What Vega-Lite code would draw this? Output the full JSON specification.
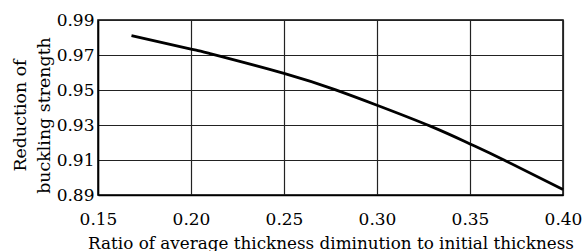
{
  "$schema": "https://vega.github.io/schema/vega-lite/v6.json",
  "width": 465,
  "height": 175,
  "autosize": {"type": "none"},
  "padding": {"left": 98, "top": 20, "right": 21, "bottom": 56},
  "background": "white",
  "config": {
    "font": "DejaVu Serif",
    "view": {"stroke": "black", "strokeWidth": 1.5},
    "axis": {
      "grid": true,
      "gridColor": "#222222",
      "gridWidth": 1.2,
      "gridOpacity": 1,
      "domain": true,
      "domainColor": "black",
      "domainWidth": 1.5,
      "ticks": false,
      "tickSize": 0,
      "labelFont": "DejaVu Serif",
      "labelFontSize": 17,
      "labelColor": "black",
      "titleFont": "DejaVu Serif",
      "titleFontSize": 16.8,
      "titleFontWeight": "normal",
      "titleColor": "black"
    }
  },
  "data": {
    "values": [
      {"ratio": 0.168, "reduction": 0.9811},
      {"ratio": 0.2, "reduction": 0.9734},
      {"ratio": 0.2102, "reduction": 0.9708},
      {"ratio": 0.25, "reduction": 0.9595},
      {"ratio": 0.2774, "reduction": 0.9502},
      {"ratio": 0.3, "reduction": 0.9413},
      {"ratio": 0.329, "reduction": 0.9292},
      {"ratio": 0.35, "reduction": 0.9192},
      {"ratio": 0.3677, "reduction": 0.9103},
      {"ratio": 0.4, "reduction": 0.8931}
    ]
  },
  "mark": {"type": "line", "color": "black", "strokeWidth": 2.8, "interpolate": "natural"},
  "encoding": {
    "x": {
      "field": "ratio",
      "type": "quantitative",
      "scale": {"domain": [0.15, 0.4], "nice": false, "zero": false},
      "axis": {
        "values": [0.15, 0.2, 0.25, 0.3, 0.35, 0.4],
        "format": ".2f",
        "labelPadding": 29,
        "labelBaseline": "alphabetic",
        "labelFlush": false,
        "title": "Ratio of average thickness diminution to initial thickness",
        "titleBaseline": "alphabetic",
        "titleY": 53
      }
    },
    "y": {
      "field": "reduction",
      "type": "quantitative",
      "scale": {"domain": [0.89, 0.99], "nice": false, "zero": false},
      "axis": {
        "values": [0.89, 0.91, 0.93, 0.95, 0.97, 0.99],
        "format": ".2f",
        "labelPadding": 4,
        "labelBaseline": "middle",
        "labelFlush": false,
        "title": ["Reduction of", "buckling strength"],
        "titleFontSize": 17.4,
        "titleAngle": -90,
        "titleAlign": "center",
        "titleBaseline": "alphabetic",
        "titleLineHeight": 24,
        "titleX": -73,
        "titleY": 95
      }
    }
  }
}
